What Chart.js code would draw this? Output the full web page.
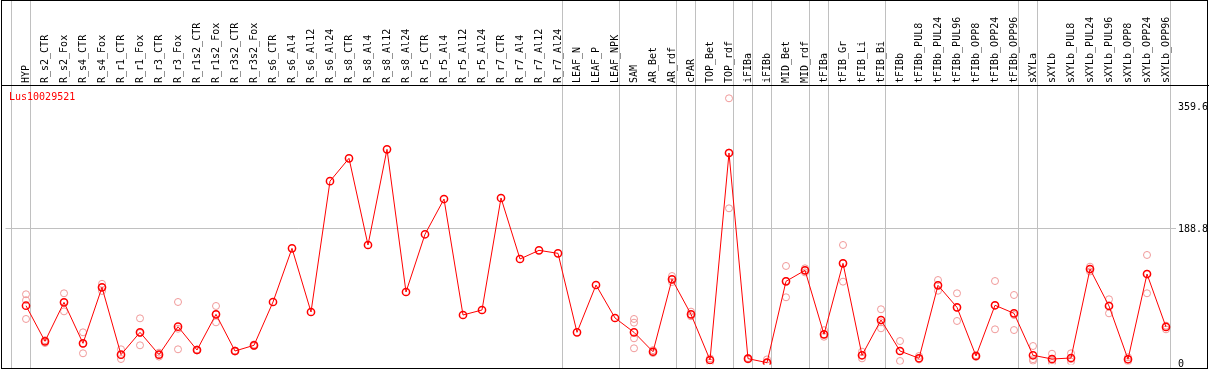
<!DOCTYPE html>
<html>
<head>
<meta charset="UTF-8">
<title>Lus10029521</title>
<script src="https://cdn.jsdelivr.net/npm/chart.js"></script>
<style>
  html, body { margin: 0; padding: 0; background: #fff; }
  #wrap { width: 1209px; height: 370px; }
</style>
</head>
<body>
<div id="wrap"><canvas id="expr" width="1209" height="370"></canvas></div>
<script>
// samples (x categories)
const samples = ['HYP','R_s2_CTR','R_s2_Fox','R_s4_CTR','R_s4_Fox','R_r1_CTR','R_r1_Fox','R_r3_CTR','R_r3_Fox',
  'R_r1s2_CTR','R_r1s2_Fox','R_r3s2_CTR','R_r3s2_Fox','R_s6_CTR','R_s6_Al4','R_s6_Al12','R_s6_Al24',
  'R_s8_CTR','R_s8_Al4','R_s8_Al12','R_s8_Al24','R_r5_CTR','R_r5_Al4','R_r5_Al12','R_r5_Al24',
  'R_r7_CTR','R_r7_Al4','R_r7_Al12','R_r7_Al24','LEAF_N','LEAF_P','LEAF_NPK','SAM','AR_Bet','AR_rdf',
  'cPAR','TOP_Bet','TOP_rdf','iFIBa','iFIBb','MID_Bet','MID_rdf','tFIBa','tFIB_Gr','tFIB_Li','tFIB_Bi',
  'tFIBb','tFIBb_PUL8','tFIBb_PUL24','tFIBb_PUL96','tFIBb_OPP8','tFIBb_OPP24','tFIBb_OPP96',
  'sXYLa','sXYLb','sXYLb_PUL8','sXYLb_PUL24','sXYLb_PUL96','sXYLb_OPP8','sXYLb_OPP24','sXYLb_OPP96'];

// mean expression (red line)
const meanVals = [80.3,30.4,85,27.6,106,11.7,43,11.7,50.9,18.2,68.2,16.8,24.8,
  85.5,160.7,71.5,254.9,286.9,165.4,299.5,99.5,180.4,229.8,67.3,74.3,231.3,145.8,157.9,153.7,
  43,109.3,63.1,43,15.8,117.3,68.2,4.2,294.3,6.1,0.5,114.5,129.9,40.2,139.7,10.8,60.3,
  16.8,6.6,108.9,78,9.8,80.9,69.6,10.8,5.6,7,131.7,79.9,5.2,124.7,50.5];

// replicates (light circles), null = no replicate
const rep1 = [96.3,32,97.7,43,111,19.2,62.6,14.5,85.5,19,79.9,17.5,26,
  null,null,null,null,null,null,null,null,null,null,null,null,null,null,null,null,null,null,null,
  61.7,18,121.9,72,6.5,371,7,5,136,132.7,46,165.4,15.9,75.3,
  30.8,9.8,116.3,97.7,11,114.9,95.3,23.8,13,13.6,135,89.3,8,151.4,52.3];
const rep2 = [88,30,85,27,106,11,42,11.7,48,18.2,68,16.8,24.8,
  null,null,null,null,null,null,null,null,null,null,null,null,null,null,null,null,null,null,null,
  56.5,15.8,117,68,4.2,295,6,0.5,115,129.9,40,139.7,10.8,57,
  16.8,6.6,109,77.5,9.8,80.6,67.3,5.3,3.8,5.5,131.7,80.8,5.2,125,50.5];
const rep3 = [61.7,28,72.4,13.6,101,5.6,24.8,9,19.2,17.5,57,16,23.6,
  null,null,null,null,null,null,null,null,null,null,null,null,null,null,null,null,null,null,null,
  34.6,14,113.5,65.5,0.7,216.8,5,0,92.1,127,36.8,114,6.5,48.6,
  2.8,5,101.3,58.9,8.5,47.2,46.2,3.3,0,1.9,128.3,69.6,2.4,97.7,47.2];
const rep4 = [null,null,null,null,null,null,null,null,null,null,null,null,null,
  null,null,null,null,null,null,null,null,null,null,null,null,null,null,null,null,null,null,null,
  20.6,null,null,null,null,null,null,null,null,null,null,null,null,null,
  null,null,null,null,null,null,null,null,null,null,null,null,null,null,null];

const yTicks = [0, 188.8, 359.6];
// gray separators drawn after these sample indices
const groupEnds = [-1, 0, 28, 31, 34, 35, 37, 38, 39, 41, 42, 45, 52, 53, 60];

const toPts = arr => arr.map((v, i) => v == null ? null : { x: i, y: v }).filter(p => p);

const monoFont = { family: 'DejaVu Sans Mono', size: 10 };

// target placement: first sample at x=26, 19px apart; 0 at y=363, 188.8 at y=228.3
const X0 = 26, XSTEP = 19, Y0 = 363, YPX = (363 - 228.3) / 188.8;

const framePlugin = {
  id: 'frame',
  beforeDatasetsDraw(chart) {
    const { ctx, scales: { x } } = chart;
    ctx.save();
    ctx.strokeStyle = '#c0c0c0';
    ctx.lineWidth = 1;
    groupEnds.forEach(i => {
      const px = Math.floor(x.getPixelForValue(i + 0.25)) + 0.5;
      ctx.beginPath();
      ctx.moveTo(px, 0);
      ctx.lineTo(px, 368);
      ctx.stroke();
    });
    ctx.restore();
  },
  afterDraw(chart) {
    const ctx = chart.ctx;
    ctx.save();
    ctx.strokeStyle = '#000';
    ctx.lineWidth = 1;
    ctx.strokeRect(1.5, 0.5, 1206, 368);
    ctx.beginPath();
    ctx.moveTo(1, 85.5);
    ctx.lineTo(1209, 85.5);
    ctx.stroke();
    ctx.fillStyle = '#ff0000';
    ctx.font = '10px "DejaVu Sans Mono"';
    ctx.textBaseline = 'middle';
    ctx.fillText('Lus10029521', 9, 97);
    ctx.restore();
  }
};

const xRight = 1176;
const chart = new Chart(document.getElementById('expr'), {
  type: 'line',
  data: {
    datasets: [
      {
        data: toPts(meanVals),
        borderColor: '#ff0000', borderWidth: 1, tension: 0,
        pointRadius: 3.6, pointBorderWidth: 1.5,
        pointBorderColor: '#ff0000', pointBackgroundColor: 'rgba(0,0,0,0)'
      },
      ...[rep1, rep2, rep3, rep4].map(r => ({
        data: toPts(r),
        showLine: false,
        pointRadius: 3.5, pointBorderWidth: 1,
        pointBorderColor: '#f09999', pointBackgroundColor: 'rgba(0,0,0,0)'
      }))
    ]
  },
  options: {
    responsive: false,
    animation: false,
    events: [],
    layout: { padding: { left: 1, right: 0, top: 0, bottom: 2 } },
    plugins: { legend: { display: false }, tooltip: { enabled: false } },
    scales: {
      x: {
        type: 'linear', position: 'top',
        min: -1.3, max: 60.5,
        afterBuildTicks: s => { s.ticks = samples.map((_, i) => ({ value: i })); },
        afterFit: s => { s.height = 85; s.paddingLeft = 0; s.paddingRight = 0; },
        grid: { display: false, drawTicks: false },
        border: { display: false },
        ticks: {
          autoSkip: false, minRotation: 90, maxRotation: 90, padding: 2,
          labelOffset: 12,
          color: '#000', font: monoFont,
          callback: v => samples[v]
        }
      },
      y: {
        position: 'right', min: -7, max: 389.6,
        afterBuildTicks: s => { s.ticks = yTicks.map(v => ({ value: v })); },
        afterFit: s => { s.width = 1209 - xRight; s.paddingTop = 0; s.paddingBottom = 0; },
        grid: {
          drawTicks: false,
          color: c => (c.tick && c.tick.value === 188.8) ? '#c0c0c0' : 'rgba(0,0,0,0)'
        },
        border: { display: false },
        ticks: {
          padding: 2, color: '#000', font: monoFont, labelOffset: 1,
          callback: v => v === 0 ? '0' : v.toFixed(1)
        }
      }
    }
  },
  plugins: [framePlugin]
});

// fit the scale ranges to the actual chart area so samples land on the target pixels
const ca = chart.chartArea;
chart.options.scales.x.min = (ca.left - X0) / XSTEP;
chart.options.scales.x.max = (ca.right - X0) / XSTEP;
chart.options.scales.y.min = -(ca.bottom - Y0) / YPX;
chart.options.scales.y.max = (Y0 - ca.top) / YPX;
chart.update();
</script>
</body>
</html>
